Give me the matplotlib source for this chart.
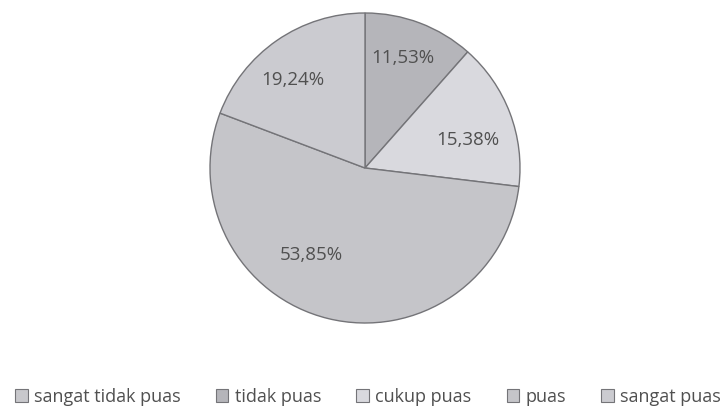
import matplotlib.pyplot as plt
from matplotlib.patches import Patch
import numpy as np

plt.rcParams['font.family'] = ['Open Sans', 'DejaVu Sans']

# data
categories = ['sangat tidak puas', 'tidak puas', 'cukup puas', 'puas', 'sangat puas']
values = [0.0, 11.53, 15.38, 53.85, 19.24]
labels = ['', '11,53%', '15,38%', '53,85%', '19,24%']
colors = ['#c8c8cc', '#b5b5ba', '#d9d9de', '#c5c5c9', '#cbcbd0']

fig = plt.figure(figsize=(7.28, 4.09), dpi=100)
W, H = 728, 409
cx, cy, r = 365, 168, 155
ax = fig.add_axes([(cx - r) / W, (H - cy - r) / H, 2 * r / W, 2 * r / H])

wedges, _ = ax.pie(values, colors=colors, startangle=90, counterclock=False,
                   wedgeprops=dict(edgecolor='#747478', linewidth=1.0))
ax.set_xlim(-1, 1)
ax.set_ylim(-1, 1)
ax.set_aspect('equal')

# label placement (angle offset in degrees, radius fraction)
label_adj = [(0, 0), (1.6, 0.75), (-5.6, 0.69), (-18, 0.66), (4.7, 0.73)]
for w, lab, (da, rr) in zip(wedges, labels, label_adj):
    if not lab:
        continue
    ang = np.deg2rad((w.theta1 + w.theta2) / 2 + da)
    ax.text(rr * np.cos(ang), rr * np.sin(ang), lab, ha='center', va='center',
            fontsize=13.5, color='#505050')

handles = [Patch(facecolor=c, edgecolor='#747478', linewidth=0.8) for c in colors]
fig.legend(handles, categories, loc='center', bbox_to_anchor=(368 / W, 1 - 397 / H),
           ncol=5, frameon=False, fontsize=13, handlelength=0.7, handleheight=0.7,
           handletextpad=0.35, columnspacing=1.95, labelcolor='#505050',
           borderaxespad=0, borderpad=0)

fig.savefig('out.png', dpi=100)
